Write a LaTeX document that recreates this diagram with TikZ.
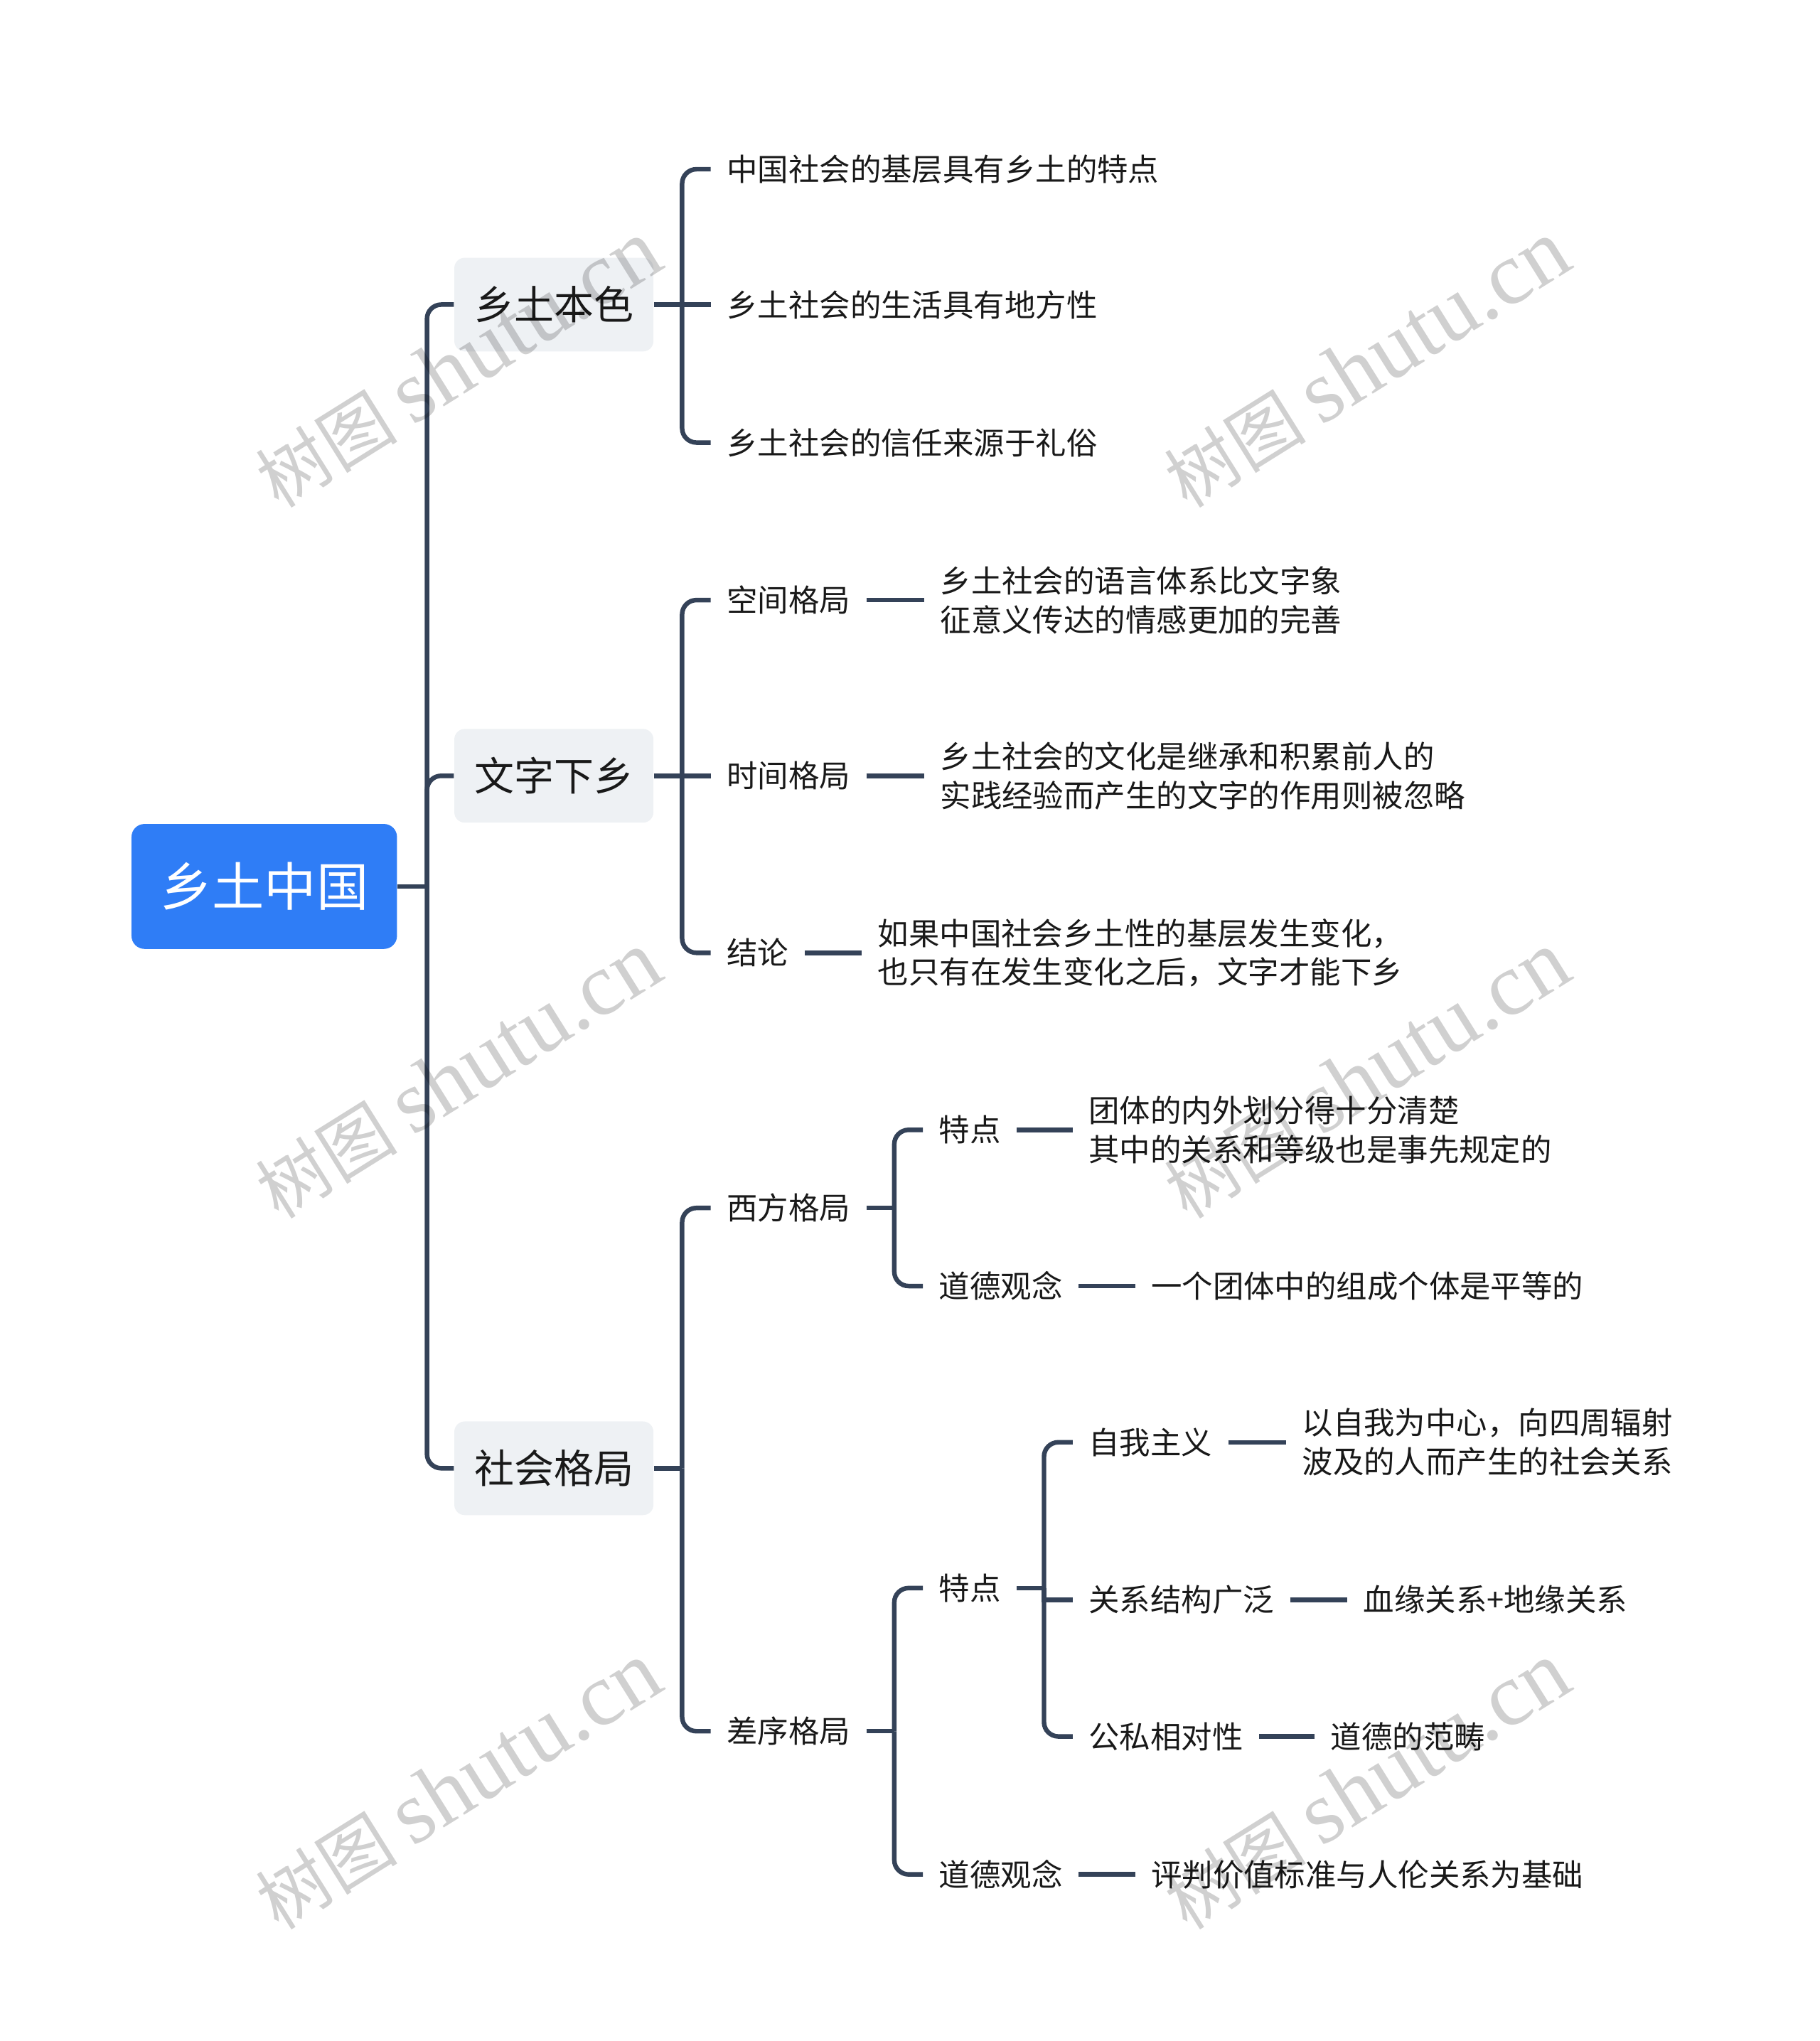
\documentclass[tikz,border=0pt]{standalone}
\usepackage{fontspec}
\setmainfont{Noto Sans CJK SC}
\newfontfamily\wmfont{Liberation Serif}
\usetikzlibrary{calc}
\definecolor{rootblue}{RGB}{47,125,246}
\definecolor{boxgray}{RGB}{238,241,244}
\definecolor{linkgray}{RGB}{52,66,88}
\definecolor{textdark}{RGB}{25,25,25}
\definecolor{wmgray}{RGB}{208,208,208}
\begin{document}
\begin{tikzpicture}[x=0.02cm,y=-0.02cm, every node/.style={font=\fontsize{13.5}{17}\selectfont, text=textdark},
    link/.style={draw=linkgray, line width=2pt, rounded corners=0.22cm},
    topic/.style={fill=boxgray, rounded corners=0.16cm, minimum width=3.06cm, minimum height=1.44cm, inner sep=0pt, font=\fontsize{17.4}{20}\selectfont},
    leaf/.style={anchor=west, inner xsep=0.24cm, inner ysep=2pt, align=left},
    wmark/.style={text=wmgray, rotate=32, font=\fontsize{31}{36}\selectfont}]
    \useasboundingbox (0,0) rectangle (1398,1568);
    % root and main topics
    \node[fill=rootblue, rounded corners=0.2cm, minimum width=4.08cm, minimum height=1.92cm, inner sep=0pt, text=white, font=\fontsize{22.8}{26}\selectfont] (root) at (203,681) {乡土中国};
    \node[topic] (xtbs) at (425.5,234) {乡土本色};
    \node[topic] (wzxx) at (425.5,596) {文字下乡};
    \node[topic] (shgj) at (425.5,1128) {社会格局};
    % 乡土本色
    \node[leaf] (a1) at (546,130) {中国社会的基层具有乡土的特点};
    \node[leaf] (a2) at (546,234) {乡土社会的生活具有地方性};
    \node[leaf] (a3) at (546,340) {乡土社会的信任来源于礼俗};
    % 文字下乡
    \node[leaf] (b1) at (546,461) {空间格局};
    \node[leaf] (b1t) at (710,461) {乡土社会的语言体系比文字象\\征意义传达的情感更加的完善};
    \node[leaf] (b2) at (546,596) {时间格局};
    \node[leaf] (b2t) at (710,596) {乡土社会的文化是继承和积累前人的\\实践经验而产生的文字的作用则被忽略};
    \node[leaf] (b3) at (546,732) {结论};
    \node[leaf] (b3t) at (662,732) {如果中国社会乡土性的基层发生变化，\\也只有在发生变化之后，文字才能下乡};
    % 社会格局
    \node[leaf] (c1) at (546,928) {西方格局};
    \node[leaf] (c11) at (709,868) {特点};
    \node[leaf] (c11t) at (824,868) {团体的内外划分得十分清楚\\其中的关系和等级也是事先规定的};
    \node[leaf] (c12) at (709,988) {道德观念};
    \node[leaf] (c12t) at (872,988) {一个团体中的组成个体是平等的};
    \node[leaf] (c2) at (546,1330) {差序格局};
    \node[leaf] (c21) at (709,1220) {特点};
    \node[leaf] (c211) at (824,1108) {自我主义};
    \node[leaf] (c211t) at (988,1108) {以自我为中心，向四周辐射\\波及的人而产生的社会关系};
    \node[leaf] (c212) at (824,1229) {关系结构广泛};
    \node[leaf] (c212t) at (1035,1229) {血缘关系+地缘关系};
    \node[leaf] (c213) at (824,1334) {公私相对性};
    \node[leaf] (c213t) at (1010,1334) {道德的范畴};
    \node[leaf] (c22) at (709,1440) {道德观念};
    \node[leaf] (c22t) at (872,1440) {评判价值标准与人伦关系为基础};
    % tree connectors
    \coordinate (j0) at (328,681);
    \draw[link] (root.east) -- (j0);
    \foreach \n in {xtbs,wzxx,shgj} \draw[link] (j0) |- (\n.west);
    \coordinate (j1) at (524,234);
    \draw[link] (xtbs.east) -- (a2.west);
    \foreach \n in {a1,a3} \draw[link] (j1) |- (\n.west);
    \coordinate (j2) at (524,596);
    \draw[link] (wzxx.east) -- (b2.west);
    \foreach \n in {b1,b3} \draw[link] (j2) |- (\n.west);
    \coordinate (j3) at (524,1128);
    \draw[link] (shgj.east) -- (j3);
    \foreach \n in {c1,c2} \draw[link] (j3) |- (\n.west);
    \coordinate (j4) at (687,928);
    \draw[link] (c1.east) -- (j4);
    \foreach \n in {c11,c12} \draw[link] (j4) |- (\n.west);
    \coordinate (j5) at (687,1330);
    \draw[link] (c2.east) -- (j5);
    \foreach \n in {c21,c22} \draw[link] (j5) |- (\n.west);
    \coordinate (j6) at (802,1220);
    \draw[link] (c21.east) -- (j6);
    \foreach \n in {c211,c213} \draw[link] (j6) |- (\n.west);
    \draw[link, sharp corners] (j6) |- (c212.west);
    % text links
    \foreach \n in {b1,b2,b3,c11,c12,c211,c212,c213,c22} \draw[link] (\n.east) -- (\n t.west);
    % watermarks
    \begin{scope}[blend mode=multiply]
        \foreach \wx/\wy [count=\i] in {352/280,1050/280,352/826,1050/826,352/1372,1050/1372}
            \node[wmark] (wm\i) at (\wx,\wy) {树图 {\wmfont\fontsize{39}{44}\selectfont shutu.cn}};
    \end{scope}
\end{tikzpicture}
\end{document}
